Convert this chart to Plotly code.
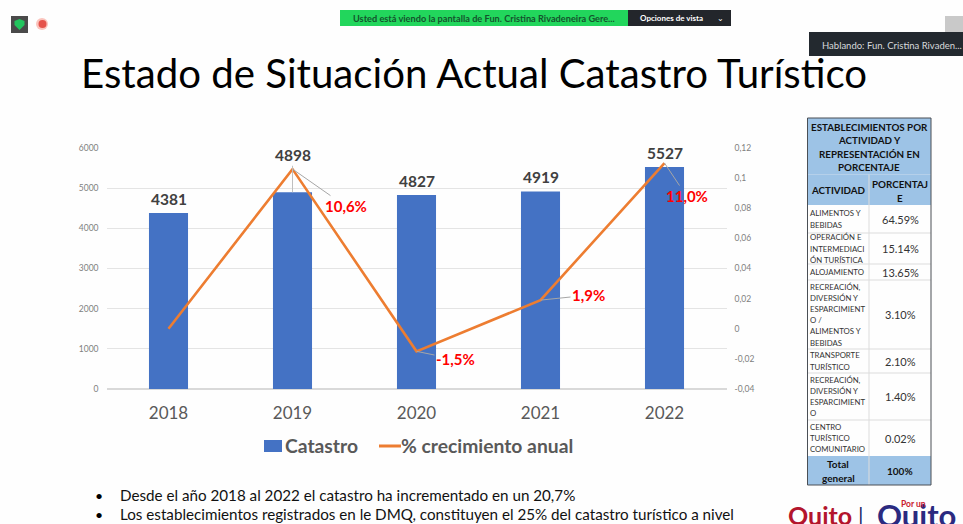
import plotly.graph_objects as go

W, H = 963, 524
FONT = "Lato"

# ---- chart data
years = ["2018", "2019", "2020", "2021", "2022"]
catastro = [4381, 4898, 4827, 4919, 5527]
growth = [0.0, 0.106, -0.015, 0.019, 0.110]
growth_labels = ["", "10,6%", "-1,5%", "1,9%", "11,0%"]
series_names = ["Catastro", "% crecimiento anual"]
left_ticks = [0, 1000, 2000, 3000, 4000, 5000, 6000]
right_ticks = [-0.04, -0.02, 0, 0.02, 0.04, 0.06, 0.08, 0.1, 0.12]
right_tick_text = ["-0,04", "-0,02", "0", "0,02", "0,04", "0,06", "0,08", "0,1", "0,12"]

# ---- table data
table_title = "ESTABLECIMIENTOS POR<br>ACTIVIDAD Y<br>REPRESENTACIÓN EN<br>PORCENTAJE"
table_head = ["ACTIVIDAD", "PORCENTAJ<br>E"]
activities = [
    "ALIMENTOS Y<br>BEBIDAS",
    "OPERACIÓN E<br>INTERMEDIACI<br>ÓN TURÍSTICA",
    "ALOJAMIENTO",
    "RECREACIÓN,<br>DIVERSIÓN Y<br>ESPARCIMIENT<br>O /<br>ALIMENTOS Y<br>BEBIDAS",
    "TRANSPORTE<br>TURÍSTICO",
    "RECREACIÓN,<br>DIVERSIÓN Y<br>ESPARCIMIENT<br>O",
    "CENTRO<br>TURÍSTICO<br>COMUNITARIO",
]
shares = ["64.59%", "15.14%", "13.65%", "3.10%", "2.10%", "1.40%", "0.02%"]
total_row = ["Total<br>general", "100%"]
bullets = [
    "Desde el año 2018 al 2022 el catastro ha incrementado en un 20,7%",
    "Los establecimientos registrados en le DMQ, constituyen el 25% del catastro turístico a nivel",
]

# ---- layout helpers (pixel positions on the page)
def px(x): return x / W
def py(y): return 1 - y / H

shapes, ann = [], []

def text(x, y, s, size, color="#000", bold=False, anchor="center", leading=None):
    lines = s.split("<br>")
    step = leading or size * 1.3
    for k, part in enumerate(lines):
        yy = y + (k - (len(lines) - 1) / 2) * step
        ann.append(dict(xref="paper", yref="paper", x=px(x), y=py(yy), text=f"<b>{part}</b>" if bold else part,
                        showarrow=False, xanchor=anchor, yanchor="middle", align=anchor,
                        font=dict(family=FONT, size=size, color=color)))

def rect(x0, y0, x1, y1, fill, line=None, lw=1):
    shapes.append(dict(type="rect", xref="paper", yref="paper", x0=px(x0), x1=px(x1), y0=py(y1), y1=py(y0),
                       fillcolor=fill, line=dict(color=line or fill, width=lw if line else 0)))

def circle(x0, y0, x1, y1, fill):
    shapes.append(dict(type="circle", xref="paper", yref="paper", x0=px(x0), x1=px(x1), y0=py(y1), y1=py(y0),
                       fillcolor=fill, line=dict(width=0)))

def hline(x0, x1, y, color, lw=1):
    shapes.append(dict(type="line", xref="paper", yref="paper", x0=px(x0), x1=px(x1), y0=py(y), y1=py(y),
                       line=dict(color=color, width=lw)))

def vline(x, y0, y1, color, lw=1):
    shapes.append(dict(type="line", xref="paper", yref="paper", x0=px(x), x1=px(x), y0=py(y0), y1=py(y1),
                       line=dict(color=color, width=lw)))

def shield(cx, top, w, h, fill):
    pts = [(cx - w / 2, top + 2), (cx, top), (cx + w / 2, top + 2), (cx + w / 2, top + h * 0.55),
           (cx, top + h), (cx - w / 2, top + h * 0.55)]
    path = "M" + " L".join(f"{px(a):.5f},{py(b):.5f}" for a, b in pts) + " Z"
    shapes.append(dict(type="path", xref="paper", yref="paper", path=path, fillcolor=fill, line=dict(width=0)))

# ---- window chrome
rect(340, 10, 628, 26, "#22d65c")
rect(628, 10, 731, 26, "#23262b")
text(351, 18, "<b>Usted está viendo la pantalla de Fun. Cristina Rivadeneira Gere...</b>", 9.2, "#14532d", anchor="left")
text(671, 18, "<b>Opciones de vista</b>", 8, "#ffffff")
text(720, 18, "⌄", 8, "#ffffff")
rect(809, 32, 963, 56, "#23292f")
text(820, 45, "Hablando: Fun. Cristina Rivaden...", 9.5, "#d8dadc", anchor="left")
rect(945, 16, 963, 32, "#c9c9c9")
rect(11, 16, 28, 33, "#4a4a4a")
shield(19.5, 19, 10, 11, "#22c55e")
circle(36, 18, 48, 30, "#fbc4bd")
circle(38.5, 20, 46.5, 28, "#e5534b")

# ---- title and bullets
text(473.5, 72, "Estado de Situación Actual Catastro Turístico", 40.2, "#000000")
for y, line in zip([495, 514], bullets):
    text(99, y, "•", 14, "#000000")
    text(118, y, line, 15.2, "#111111", anchor="left")

# ---- table
TL, TM, TR = 807.5, 869, 931
rect(TL, 118, TR, 205, "#9dc3e6")
rect(TL, 456, TR, 485, "#9dc3e6")
text((TL + TR) / 2, 147, table_title, 9.8, "#111", bold=True, leading=13.4)
text((TL + TM) / 2, 190, table_head[0], 9.8, "#111", bold=True)
text((TM + TR) / 2, 190.5, table_head[1], 9.8, "#111", bold=True, leading=14)
row_edges = [205, 233, 264, 280, 349, 373, 420, 456]
for i, (a, s) in enumerate(zip(activities, shares)):
    mid = (row_edges[i] + row_edges[i + 1]) / 2
    text(807.5, mid, a, 7.8, "#333", anchor="left", leading=11.2)
    text((TM + TR) / 2, mid, s, 11, "#333")
    if i:
        hline(TL, TR, row_edges[i], "#dcdcdc")
text((TL + TM) / 2, 471, total_row[0], 10, "#111", bold=True, leading=14)
text((TM + TR) / 2, 471, total_row[1], 10, "#111", bold=True)
hline(TL, TR, 174.5, "#b5d0ea")
vline(TM, 174.5, 485, "#dcdcdc")
rect(TL, 118, TR, 485, "rgba(0,0,0,0)", "#4a4f55", 1)

# ---- logo
text(786, 515, "Quito", 25, "#b3152d", bold=True, anchor="left")
text(861, 514, "|", 22, "#1f2a6b")
text(875, 515, "Quito", 31, "#2b2a80", bold=True, anchor="left")
text(913, 504, "Por un", 8.5, "#c8202f", bold=True)

# ---- legend
rect(264, 440, 282, 452, "#4472c4")
text(283, 445, series_names[0], 19.3, "#595959", bold=True, anchor="left")
hline(379, 401, 446, "#ed7d31", 3)
text(399, 445, series_names[1], 19.3, "#595959", bold=True, anchor="left")

# ---- data labels with leader lines
bar_label_rise = [None, 37, None, None, None]
for i, (v, rise) in enumerate(zip(catastro, bar_label_rise)):
    common = dict(xref="x", yref="y", x=i, y=v, text=f"<b>{v}</b>", xanchor="center",
                  font=dict(family=FONT, size=15.5, color="#404040"))
    if rise:
        ann.append(dict(common, showarrow=True, arrowhead=0, arrowwidth=1, arrowcolor="#bfbfbf", ax=0, ay=-rise))
    else:
        ann.append(dict(common, showarrow=False, yanchor="bottom", yshift=3))

growth_offset = [None, (53, 37), (39, 8), (48, -5), (22, 33)]
for i, (g, lab, off) in enumerate(zip(growth, growth_labels, growth_offset)):
    if off:
        ann.append(dict(xref="x", yref="y2", x=i, y=g, text=f"<b>{lab}</b>", showarrow=True,
                        arrowhead=0, arrowwidth=1, arrowcolor="#a6a6a6", ax=off[0], ay=off[1],
                        font=dict(family=FONT, size=15, color="#ff0000")))

# ---- figure
fig = go.Figure()
fig.add_bar(x=years, y=catastro, name=series_names[0], marker=dict(color="#4472c4", line=dict(width=0)), yaxis="y")
fig.add_scatter(x=years, y=growth, name=series_names[1], mode="lines",
                line=dict(color="#ed7d31", width=2.6), yaxis="y2")

fig.update_layout(
    width=W, height=H, margin=dict(l=0, r=0, t=0, b=0, autoexpand=False),
    paper_bgcolor="#fefefe", plot_bgcolor="rgba(0,0,0,0)",
    bargap=0.685, font=dict(family=FONT), shapes=shapes, annotations=ann, showlegend=False,
    xaxis=dict(domain=[px(106.5), px(726.5)], anchor="y", type="category", range=[-0.5, 4.5], showgrid=False,
               showline=False, ticks="", ticklabelstandoff=12,
               tickfont=dict(family=FONT, size=17, color="#595959")),
    yaxis=dict(domain=[py(389), py(148)], range=[0, 6000], tickvals=left_ticks, ticktext=[str(t) for t in left_ticks],
               gridcolor="#e4e4e4", gridwidth=1, zeroline=True, zerolinecolor="#d9d9d9", showline=False, ticks="",
               ticklabelstandoff=7, tickfont=dict(family=FONT, size=8.5, color="#7f7f7f")),
    yaxis2=dict(domain=[py(389), py(148)], overlaying="y", side="right", anchor="x", range=[-0.04, 0.12],
                tickvals=right_ticks, ticktext=right_tick_text, showgrid=False, zeroline=False, showline=False,
                ticks="", ticklabelstandoff=7, tickfont=dict(family=FONT, size=8.5, color="#7f7f7f")),
)

fig.write_html("out.html", config={"displayModeBar": False},
               post_script="document.body.style.margin='0';document.documentElement.style.overflow='hidden';")
